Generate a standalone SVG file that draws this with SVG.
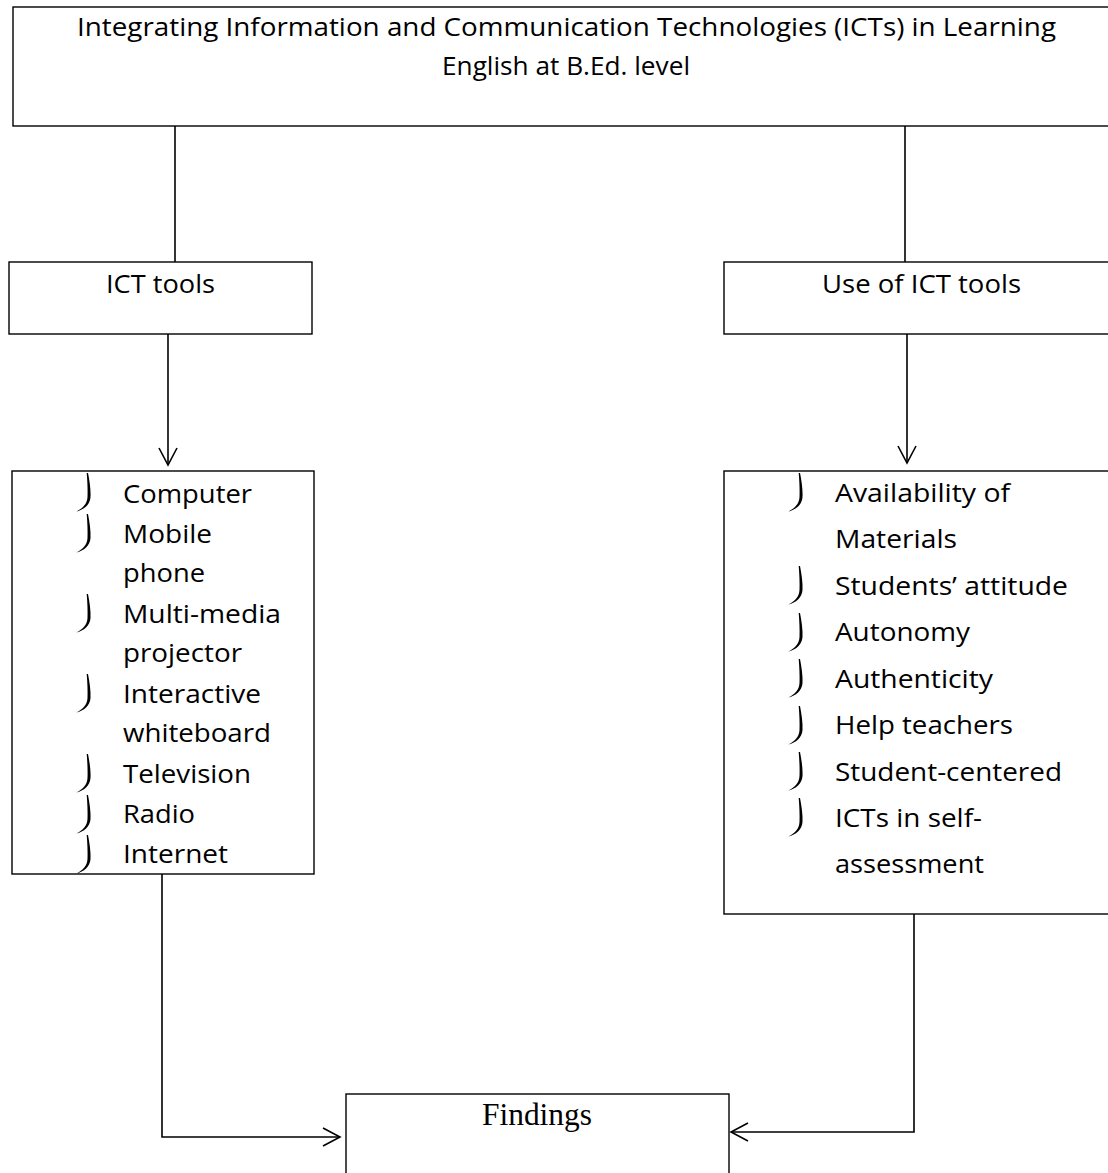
<svg xmlns="http://www.w3.org/2000/svg" xmlns:xlink="http://www.w3.org/1999/xlink" width="1108" height="1173" viewBox="0 0 1108 1173">
<style>
.box{fill:#fff;stroke:#000;stroke-width:1.4}
.t{font-family:"Open Sans","Noto Sans","Liberation Sans",sans-serif;font-size:26px;fill:#000}
.tt{font-family:"Open Sans","Noto Sans","Liberation Sans",sans-serif;font-size:25px;fill:#000}
.f{font-family:"Liberation Serif","Times New Roman",serif;font-size:32px;fill:#000}
.c{fill:none;stroke:#000;stroke-width:1.6}
</style>
<defs>
<marker id="ah" viewBox="0 0 20 20" refX="18" refY="10" markerWidth="20" markerHeight="20" markerUnits="userSpaceOnUse" orient="auto">
<path d="M1,1 L18,10 L1,19" fill="none" stroke="#000" stroke-width="1.6"/>
</marker>
<path id="bul" d="M0,0 C1.6,8 2.9,17 2.5,24 C2,32 -4,36.5 -11.6,38.6 C-5,35 -0.9,31 -0.5,24 C-0.2,17 -0.6,8 -1.3,0 Z" fill="#000"/>
</defs>
<rect width="1108" height="1173" fill="#fff"/>
<g id="connectors">
<path class="c" d="M175,126 V262"/>
<path class="c" d="M905,126 V262"/>
<path class="c" d="M168,334 V465" marker-end="url(#ah)"/>
<path class="c" d="M907,334 V463" marker-end="url(#ah)"/>
<path class="c" d="M162,874 V1137 H340" marker-end="url(#ah)"/>
<path class="c" d="M914,914 V1132 H731" marker-end="url(#ah)"/>
</g>
<g id="title">
<rect class="box" x="13" y="7" width="1110" height="119"/>
<text class="tt" x="77" y="36" textLength="979" lengthAdjust="spacingAndGlyphs">Integrating Information and Communication Technologies (ICTs) in Learning</text>
<text class="tt" x="442" y="75" textLength="248" lengthAdjust="spacingAndGlyphs">English at B.Ed. level</text>
</g>
<g id="ict-tools">
<rect class="box" x="9" y="262" width="303" height="72"/>
<text class="t" x="106" y="293" textLength="109" lengthAdjust="spacingAndGlyphs">ICT tools</text>
</g>
<g id="use-of-ict-tools">
<rect class="box" x="724" y="262" width="400" height="72"/>
<text class="t" x="822" y="293" textLength="199" lengthAdjust="spacingAndGlyphs">Use of ICT tools</text>
</g>
<g id="tools-list">
<rect class="box" x="12" y="471" width="302" height="403"/>
<use href="#bul" x="88" y="473"/>
<use href="#bul" x="88" y="514"/>
<use href="#bul" x="88" y="594"/>
<use href="#bul" x="88" y="674"/>
<use href="#bul" x="88" y="754"/>
<use href="#bul" x="88" y="795"/>
<use href="#bul" x="88" y="835"/>
<text class="t" x="123" y="503" textLength="129" lengthAdjust="spacingAndGlyphs">Computer</text>
<text class="t" x="123" y="543" textLength="89" lengthAdjust="spacingAndGlyphs">Mobile</text>
<text class="t" x="123" y="582" textLength="82" lengthAdjust="spacingAndGlyphs">phone</text>
<text class="t" x="123" y="623" textLength="158" lengthAdjust="spacingAndGlyphs">Multi-media</text>
<text class="t" x="123" y="662" textLength="119" lengthAdjust="spacingAndGlyphs">projector</text>
<text class="t" x="123" y="703" textLength="138" lengthAdjust="spacingAndGlyphs">Interactive</text>
<text class="t" x="123" y="742" textLength="148" lengthAdjust="spacingAndGlyphs">whiteboard</text>
<text class="t" x="123" y="783" textLength="128" lengthAdjust="spacingAndGlyphs">Television</text>
<text class="t" x="123" y="823" textLength="72" lengthAdjust="spacingAndGlyphs">Radio</text>
<text class="t" x="123" y="863" textLength="105" lengthAdjust="spacingAndGlyphs">Internet</text>
</g>
<g id="use-list">
<rect class="box" x="724" y="471" width="400" height="443"/>
<use href="#bul" x="800" y="473"/>
<use href="#bul" x="800" y="566"/>
<use href="#bul" x="800" y="613"/>
<use href="#bul" x="800" y="659"/>
<use href="#bul" x="800" y="706"/>
<use href="#bul" x="800" y="752"/>
<use href="#bul" x="800" y="798"/>
<text class="t" x="835" y="502" textLength="175" lengthAdjust="spacingAndGlyphs">Availability of</text>
<text class="t" x="835" y="548" textLength="122" lengthAdjust="spacingAndGlyphs">Materials</text>
<text class="t" x="835" y="595" textLength="233" lengthAdjust="spacingAndGlyphs">Students’ attitude</text>
<text class="t" x="835" y="641" textLength="135" lengthAdjust="spacingAndGlyphs">Autonomy</text>
<text class="t" x="835" y="688" textLength="158" lengthAdjust="spacingAndGlyphs">Authenticity</text>
<text class="t" x="835" y="734" textLength="178" lengthAdjust="spacingAndGlyphs">Help teachers</text>
<text class="t" x="835" y="781" textLength="227" lengthAdjust="spacingAndGlyphs">Student-centered</text>
<text class="t" x="835" y="827" textLength="147" lengthAdjust="spacingAndGlyphs">ICTs in self-</text>
<text class="t" x="835" y="873" textLength="149" lengthAdjust="spacingAndGlyphs">assessment</text>
</g>
<g id="findings">
<rect class="box" x="346" y="1094" width="383" height="90"/>
<text class="f" x="482" y="1125" textLength="110" lengthAdjust="spacingAndGlyphs">Findings</text>
</g>
</svg>
